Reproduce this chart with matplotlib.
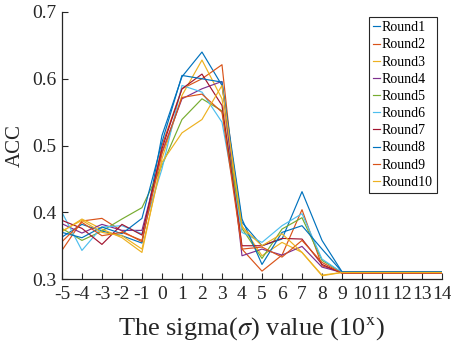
import matplotlib
matplotlib.use("Agg")
import matplotlib.pyplot as plt

plt.rcParams['font.family'] = ['Liberation Serif', 'DejaVu Serif']
plt.rcParams['mathtext.fontset'] = 'stix'

x = list(range(-5, 15))
labels = [f"Round{i}" for i in range(1, 11)]

r1 = [0.363, 0.382, 0.372, 0.365, 0.354, 0.515, 0.603, 0.640, 0.590, 0.385, 0.350, 0.360, 0.431, 0.358, 0.311, 0.311, 0.311, 0.311, 0.311, 0.311]
r2 = [0.343, 0.387, 0.391, 0.372, 0.356, 0.500, 0.585, 0.600, 0.621, 0.345, 0.312, 0.336, 0.404, 0.320, 0.310, 0.310, 0.310, 0.310, 0.310, 0.310]
r3 = [0.371, 0.390, 0.375, 0.362, 0.340, 0.480, 0.575, 0.628, 0.570, 0.380, 0.335, 0.355, 0.340, 0.306, 0.310, 0.310, 0.310, 0.310, 0.310, 0.310]
r4 = [0.383, 0.369, 0.382, 0.373, 0.373, 0.490, 0.570, 0.585, 0.596, 0.335, 0.345, 0.336, 0.349, 0.318, 0.310, 0.310, 0.310, 0.310, 0.310, 0.310]
r5 = [0.376, 0.358, 0.372, 0.390, 0.407, 0.470, 0.539, 0.570, 0.552, 0.376, 0.331, 0.375, 0.392, 0.328, 0.310, 0.310, 0.310, 0.310, 0.310, 0.310]
r6 = [0.400, 0.343, 0.378, 0.380, 0.368, 0.465, 0.590, 0.580, 0.535, 0.370, 0.355, 0.380, 0.398, 0.330, 0.310, 0.310, 0.310, 0.310, 0.310, 0.310]
r7 = [0.388, 0.376, 0.352, 0.382, 0.366, 0.495, 0.585, 0.607, 0.560, 0.350, 0.350, 0.361, 0.360, 0.322, 0.309, 0.309, 0.309, 0.309, 0.309, 0.309]
r8 = [0.370, 0.362, 0.378, 0.368, 0.391, 0.505, 0.605, 0.600, 0.595, 0.390, 0.322, 0.370, 0.380, 0.345, 0.311, 0.311, 0.311, 0.311, 0.311, 0.311]
r9 = [0.356, 0.385, 0.365, 0.370, 0.358, 0.488, 0.572, 0.577, 0.550, 0.345, 0.348, 0.333, 0.358, 0.325, 0.309, 0.309, 0.309, 0.309, 0.309, 0.309]
r10 = [0.372, 0.388, 0.370, 0.365, 0.345, 0.475, 0.519, 0.539, 0.590, 0.378, 0.350, 0.368, 0.340, 0.305, 0.310, 0.310, 0.310, 0.310, 0.310, 0.310]
series = [r1, r2, r3, r4, r5, r6, r7, r8, r9, r10]

colors = ['#0072BD', '#D95319', '#EDB120', '#7E2F8E', '#77AC30', '#4DBEEE', '#A2142F']

fig = plt.figure(figsize=(4.52, 3.52), dpi=100)
ax = fig.add_axes([0.137, 0.207, 0.841, 0.759])

for i, (s, lab) in enumerate(zip(series, labels)):
    ax.plot(x, s, color=colors[i % 7], lw=0.85, label=lab)

ax.set_xlim(-5, 14)
ax.set_ylim(0.3, 0.7)
ax.set_xticks(x)
ax.set_xticklabels([str(v) for v in x])
ax.set_yticks([0.3, 0.4, 0.5, 0.6, 0.7])
ax.tick_params(direction='in', length=4, width=0.8, labelsize=14, pad=4,
               colors='#262626')
ax.tick_params(axis='x', pad=5)
for side in ['top', 'right']:
    ax.spines[side].set_visible(False)
for side in ['left', 'bottom']:
    ax.spines[side].set_linewidth(0.9)
    ax.spines[side].set_color('#262626')

ax.set_xlabel(r"The sigma($\sigma$) value (10$^{\mathrm{x}}$)", fontsize=19,
              color='#262626', labelpad=9)
ax.set_ylabel("ACC", fontsize=15, color='#262626', labelpad=5)

leg = ax.legend(loc='upper right', bbox_to_anchor=(0.987, 0.981), fontsize=10,
                handlelength=0.5, handletextpad=0.15, borderpad=0.3,
                labelspacing=0.3, borderaxespad=0, fancybox=False, framealpha=1,
                edgecolor='#262626')
leg.get_frame().set_linewidth(0.8)

fig.savefig("out.png", dpi=100)
